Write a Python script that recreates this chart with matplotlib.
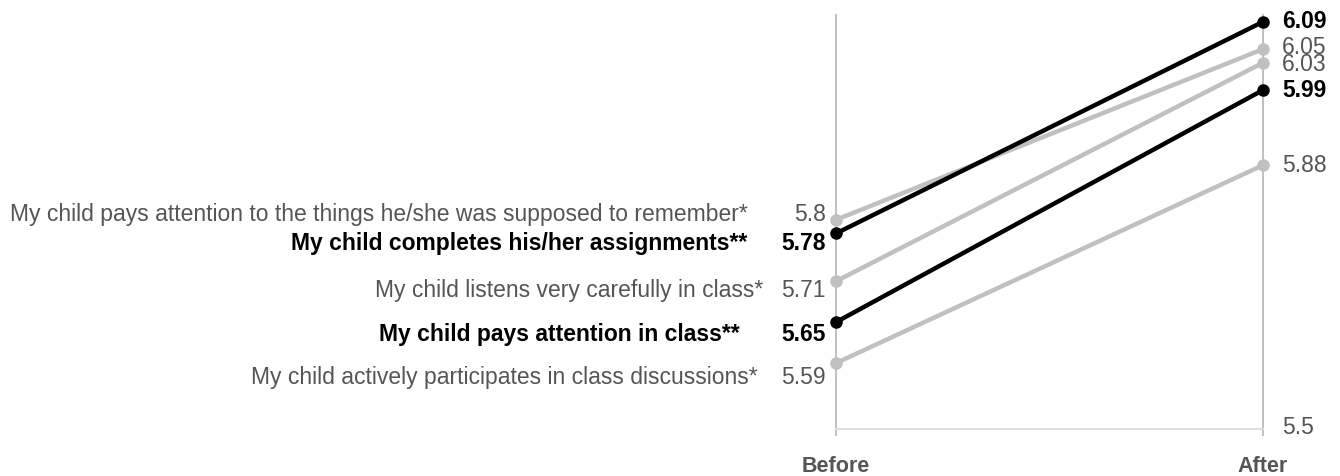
import matplotlib
matplotlib.use('Agg')
import matplotlib.pyplot as plt

plt.rcParams['font.family'] = ['Liberation Sans', 'DejaVu Sans']

# Data
labels = [
    "My child pays attention to the things he/she was supposed to remember*",
    "My child completes his/her assignments**",
    "My child listens very carefully in class*",
    "My child pays attention in class**",
    "My child actively participates in class discussions*",
]
before = [5.80, 5.78, 5.71, 5.65, 5.59]
after = [6.05, 6.09, 6.03, 5.99, 5.88]
before_txt = ["5.8", "5.78", "5.71", "5.65", "5.59"]
after_txt = ["6.05", "6.09", "6.03", "5.99", "5.88"]
highlight = [False, True, False, True, False]
periods = ["Before", "After"]

# label layout tweaks (pixels): vertical nudge of left labels, right edge of the text
label_dy = [5, -10, -9, -12, -14]
label_dx = [-88, -89, -73, -96, -78]
after_dy = [2, 0, -2, 0, 0]

fig = plt.figure(figsize=(13.4, 4.76), dpi=100)
ax = fig.add_axes([836 / 1340, 46 / 476, 427 / 1340, 415 / 476])
ax.set_xlim(0, 1)
ax.set_ylim(5.492, 6.100)
ax.axis('off')

base = 5.494
# guide lines
ax.plot([0, 0], [base - 0.010, 6.10], color='#bbbbbb', lw=1.3, clip_on=False, zorder=1)
ax.plot([1, 1], [base - 0.010, 6.10], color='#bbbbbb', lw=1.3, clip_on=False, zorder=1)
ax.plot([0, 1], [base, base], color='#dddddd', lw=1.5, clip_on=False, zorder=1)

# gray first, black on top
order = [i for i in range(len(labels)) if not highlight[i]] + \
        [i for i in range(len(labels)) if highlight[i]]
for i in order:
    c = 'black' if highlight[i] else '#c0c0c0'
    ax.plot([0, 1], [before[i], after[i]], color=c, lw=3.2,
            marker='o', ms=8, zorder=3 if highlight[i] else 2, clip_on=False)

fs = 16.5
for i in range(len(labels)):
    if highlight[i]:
        kw = dict(color='black', fontweight='bold')
    else:
        kw = dict(color='#555555')
    ax.annotate(labels[i], (0, before[i]), xytext=(label_dx[i], label_dy[i]),
                textcoords='offset pixels', ha='right', va='center', fontsize=fs, **kw)
    ax.annotate(before_txt[i], (0, before[i]), xytext=(-10, label_dy[i]),
                textcoords='offset pixels', ha='right', va='center', fontsize=fs, **kw)
    ax.annotate(after_txt[i], (1, after[i]), xytext=(19, after_dy[i]), textcoords='offset pixels',
                ha='left', va='center', fontsize=fs, **kw)

ax.annotate("5.5", (1, 5.5), xytext=(19, -3), textcoords='offset pixels',
            ha='left', va='center', fontsize=fs, color='#555555')

for x, p in zip([0, 1], periods):
    ax.annotate(p, (x, base), xytext=(0, -38), textcoords='offset pixels',
                ha='center', va='center', fontsize=15.5, fontweight='bold', color='#555555')

fig.savefig('out.png', dpi=100)
